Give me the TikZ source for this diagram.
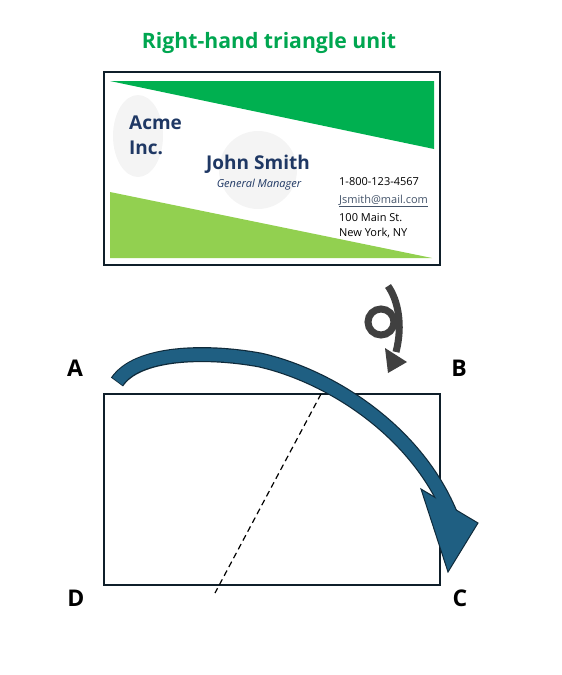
\documentclass[tikz,border=0pt]{standalone}
\usepackage{fontspec}
\setmainfont{Open Sans}
\usetikzlibrary{shapes.geometric}
\definecolor{titlegreen}{HTML}{00A650}
\definecolor{darkgreen}{HTML}{00B050}
\definecolor{lightgreen}{HTML}{92D050}
\definecolor{navy}{HTML}{1F3864}
\definecolor{cardline}{HTML}{0F1F2A}
\definecolor{mailgray}{HTML}{44546A}
\definecolor{arrowblue}{HTML}{1F5F82}
\definecolor{arrowedge}{HTML}{0F2A3A}
\definecolor{loopgray}{HTML}{404040}
\definecolor{blob}{HTML}{F4F4F4}
\tikzset{
  lbl/.style={font=\fontsize{23}{25}\selectfont\bfseries, text=black, inner sep=0pt},
  contact/.style={font=\fontsize{11}{13}\selectfont, anchor=base west, inner sep=0pt, text=black},
  cardname/.style={font=\fontsize{19}{22}\selectfont\bfseries, text=navy, inner sep=0pt},
}
\begin{document}
\begin{tikzpicture}[x=1pt,y=-1pt]
\useasboundingbox (0,0) rectangle (562,675);
% title
\node[font=\fontsize{21.2}{24}\selectfont\bfseries, text=titlegreen, inner sep=0pt] (title) at (269,43) {Right-hand triangle unit};
% card
\fill[darkgreen] (110,81) -- (434,81) -- (434,149) -- cycle;
\fill[lightgreen] (110,192) -- (110,258) -- (432,258) -- cycle;
\fill[blob] (138,136) ellipse (25 and 41);
\fill[blob] (258,170) circle (39);
\draw[cardline, line width=1.8pt] (104,72) rectangle (440,265);
\node[cardname, anchor=base west] (acme) at (129,129) {Acme};
\node[cardname, anchor=base west] (inc) at (129,154) {Inc.};
\node[cardname, anchor=base] (john) at (258,169.5) {John Smith};
\node[font=\fontsize{11}{13}\selectfont\itshape, text=navy, inner sep=0pt, anchor=base] (gm) at (259,187) {General Manager};
\node[contact] (phone) at (339,185) {1-800-123-4567};
\node[contact, text=mailgray] (mail) at (339,203) {\underline{Jsmith@mail.com}};
\node[contact] (street) at (339,221) {100 Main St.};
\node[contact] (city) at (339,236) {New York, NY};
% loop arrow
\draw[loopgray, line width=7pt] (381,322) circle (13);
\draw[loopgray, line width=7pt] (388,286) .. controls (398,300) and (403,325) .. (396,352);
\fill[loopgray] (385,348) -- (407,362) -- (388,373) -- cycle;
% labels
\node[lbl] (A) at (75,368) {A};
\node[lbl] (B) at (459,368) {B};
\node[lbl] (D) at (76,598) {D};
\node[lbl] (C) at (460,598) {C};
% rectangle
\draw[cardline, line width=1.4pt] (104,394) rectangle (440,585);
\coordinate (fold1) at (321,394);
\coordinate (fold2) at (215,593);
\draw[black, line width=1.2pt, dash pattern=on 6pt off 4pt] (fold1) -- (fold2);
% big curved arrow
\coordinate (tail) at (117,382);
\coordinate (shaftend) at (450,513);
\draw[arrowedge, line width=15pt] (tail) .. controls (137,352) and (205,350) .. (260,360) .. controls (330,376) and (415,430) .. (shaftend);
\filldraw[fill=arrowblue, draw=arrowedge, line width=1pt, line join=miter] (421,489) -- (478,523) -- (448,572) -- cycle;
\draw[arrowblue, line width=12.6pt, shorten <=0.8pt] (tail) .. controls (137,352) and (205,350) .. (260,360) .. controls (330,376) and (415,430) .. (shaftend);
\end{tikzpicture}
\end{document}
